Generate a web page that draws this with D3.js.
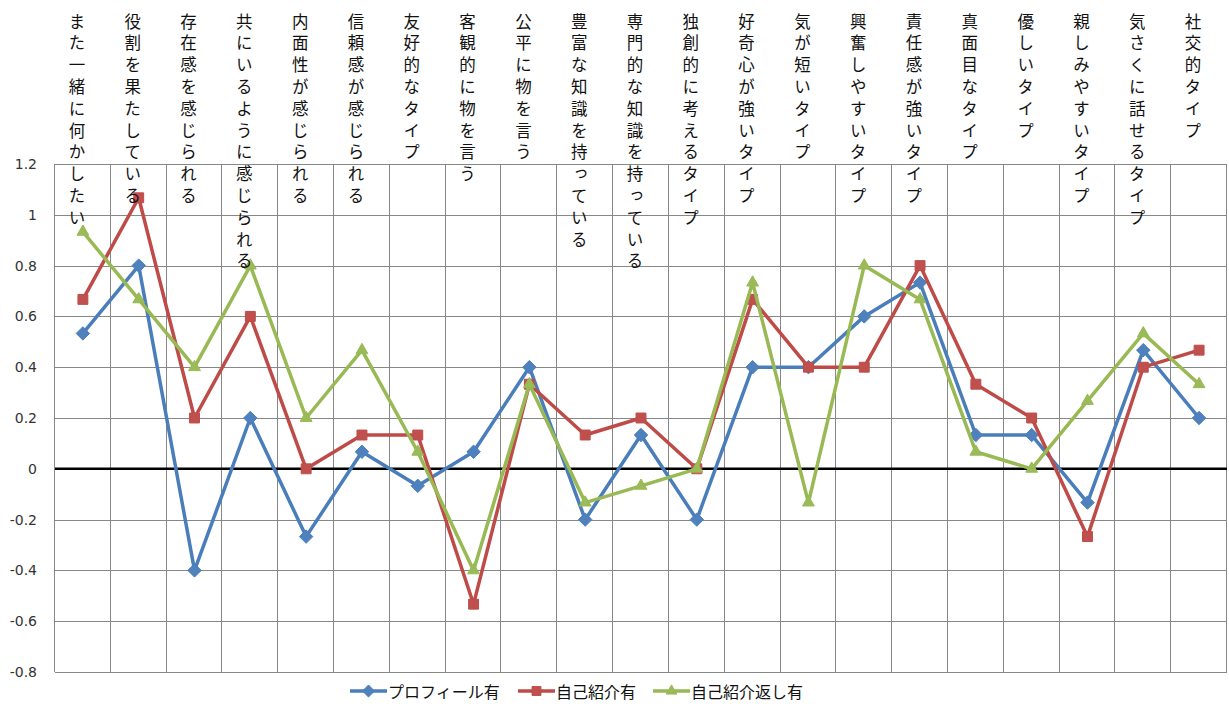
<!DOCTYPE html>
<html>
<head>
<meta charset="utf-8">
<script src="https://cdn.jsdelivr.net/npm/d3@7"></script>
<style>
  html, body { margin: 0; padding: 0; background: #fff; }
  svg { display: block; }
</style>
</head>
<body>
<svg id="chart" width="1229" height="704"></svg>
<script>
// Categories (trait items), one column each
const categories = [
  "また一緒に何かしたい", "役割を果たしている", "存在感を感じられる", "共にいるように感じられる",
  "内面性が感じられる", "信頼感が感じられる", "友好的なタイプ", "客観的に物を言う",
  "公平に物を言う", "豊富な知識を持っている", "専門的な知識を持っている", "独創的に考えるタイプ",
  "好奇心が強いタイプ", "気が短いタイプ", "興奮しやすいタイプ", "責任感が強いタイプ",
  "真面目なタイプ", "優しいタイプ", "親しみやすいタイプ", "気さくに話せるタイプ", "社交的タイプ"
];

// Series values
const profileValues = [0.533, 0.8, -0.4, 0.2, -0.267, 0.067, -0.067, 0.067, 0.4, -0.2, 0.133,
  -0.2, 0.4, 0.4, 0.6, 0.733, 0.133, 0.133, -0.133, 0.467, 0.2];
const introValues = [0.667, 1.067, 0.2, 0.6, 0, 0.133, 0.133, -0.533, 0.333, 0.133, 0.2,
  0, 0.667, 0.4, 0.4, 0.8, 0.333, 0.2, -0.267, 0.4, 0.467];
const replyValues = [0.933, 0.667, 0.4, 0.8, 0.2, 0.467, 0.067, -0.4, 0.333, -0.133, -0.067,
  0, 0.733, -0.133, 0.8, 0.667, 0.067, 0, 0.267, 0.533, 0.333];

const seriesNames = ["プロフィール有", "自己紹介有", "自己紹介返し有"];

// Y axis ticks
const yTicks = [-0.8, -0.6, -0.4, -0.2, 0, 0.2, 0.4, 0.6, 0.8, 1, 1.2];

const series = [
  { name: seriesNames[0], values: profileValues, color: "#4A7EBB", fill: "#4F81BD", symbol: d3.symbolDiamond2, size: 115 },
  { name: seriesNames[1], values: introValues, color: "#BE4B48", fill: "#C0504D", symbol: d3.symbolSquare2, size: 125 },
  { name: seriesNames[2], values: replyValues, color: "#98B954", fill: "#9BBB59", symbol: d3.symbolTriangle2, size: 100 }
];

const svg = d3.select("#chart");
const plotLeft = 55, plotRight = 1227, plotTop = 164, plotBottom = 672;

const x = d3.scaleBand().domain(categories).range([plotLeft, plotRight]).padding(0);
const y = d3.scaleLinear().domain([-0.8, 1.2]).range([plotBottom, plotTop]);
const cx = c => x(c) + x.bandwidth() / 2;

// Grid
const grid = svg.append("g").attr("shape-rendering", "crispEdges");
grid.selectAll("line.h").data(yTicks).join("line")
  .attr("class", "h")
  .attr("x1", plotLeft).attr("x2", plotRight)
  .attr("y1", d => Math.round(y(d)) + 0.5).attr("y2", d => Math.round(y(d)) + 0.5)
  .attr("stroke", "#878787").attr("stroke-width", 1);
const boundaries = categories.map(c => x(c)).concat([plotRight]);
grid.selectAll("line.v").data(boundaries).join("line")
  .attr("class", "v")
  .attr("x1", d => Math.round(d) - 0.5).attr("x2", d => Math.round(d) - 0.5)
  .attr("y1", plotTop).attr("y2", plotBottom)
  .attr("stroke", "#878787").attr("stroke-width", 1);

// Y axis labels
const yAxis = d3.axisLeft(y).tickValues(yTicks).tickSize(0).tickPadding(0)
  .tickFormat(d => String(+d.toFixed(1)));
const yG = svg.append("g").attr("transform", "translate(37,0)").call(yAxis);
yG.select(".domain").remove();
yG.selectAll("text")
  .attr("font-family", "'DejaVu Sans', sans-serif")
  .attr("font-size", 14)
  .attr("fill", "#333");

// Zero line
svg.append("line")
  .attr("x1", plotLeft).attr("x2", plotRight)
  .attr("y1", y(0)).attr("y2", y(0))
  .attr("stroke", "#000").attr("stroke-width", 2.5);

// Series lines and markers
const line = d3.line().x((d, i) => cx(categories[i])).y(d => y(d));
series.forEach(s => {
  const g = svg.append("g");
  g.append("path")
    .attr("d", line(s.values))
    .attr("fill", "none")
    .attr("stroke", s.color)
    .attr("stroke-width", 3.5)
    .attr("stroke-linejoin", "round");
  g.selectAll("path.m").data(s.values).join("path")
    .attr("class", "m")
    .attr("transform", (d, i) => `translate(${cx(categories[i])},${y(d)})`)
    .attr("d", d3.symbol().type(s.symbol).size(s.size)())
    .attr("fill", s.fill)
    .attr("stroke", s.color)
    .attr("stroke-width", 1);
});

// Category labels, stacked vertically at the top of each column
svg.append("g").selectAll("text").data(categories).join("text")
  .attr("x", d => cx(d) - 6)
  .attr("y", 13)
  .attr("writing-mode", "vertical-rl")
  .style("text-orientation", "upright")
  .style("letter-spacing", "5.3px")
  .attr("font-family", "'Noto Sans CJK JP', sans-serif")
  .attr("font-size", 16.5)
  .attr("fill", "#111")
  .text(d => d);

// Legend
const legendX = [350, 518, 653];
const legend = svg.append("g");
series.forEach((s, i) => {
  const lg = legend.append("g").attr("transform", `translate(${legendX[i]},691)`);
  lg.append("line").attr("x1", 0).attr("x2", 37).attr("y1", 0).attr("y2", 0)
    .attr("stroke", s.color).attr("stroke-width", 3.5);
  lg.append("path")
    .attr("transform", "translate(18.5,0)")
    .attr("d", d3.symbol().type(s.symbol).size(s.size * 0.8)())
    .attr("fill", s.fill).attr("stroke", s.color).attr("stroke-width", 1);
  lg.append("text")
    .attr("x", 38).attr("y", 0)
    .attr("dominant-baseline", "central")
    .attr("font-family", "'Noto Sans CJK JP', sans-serif")
    .attr("font-size", 16)
    .attr("fill", "#111")
    .text(s.name);
});
</script>
</body>
</html>
